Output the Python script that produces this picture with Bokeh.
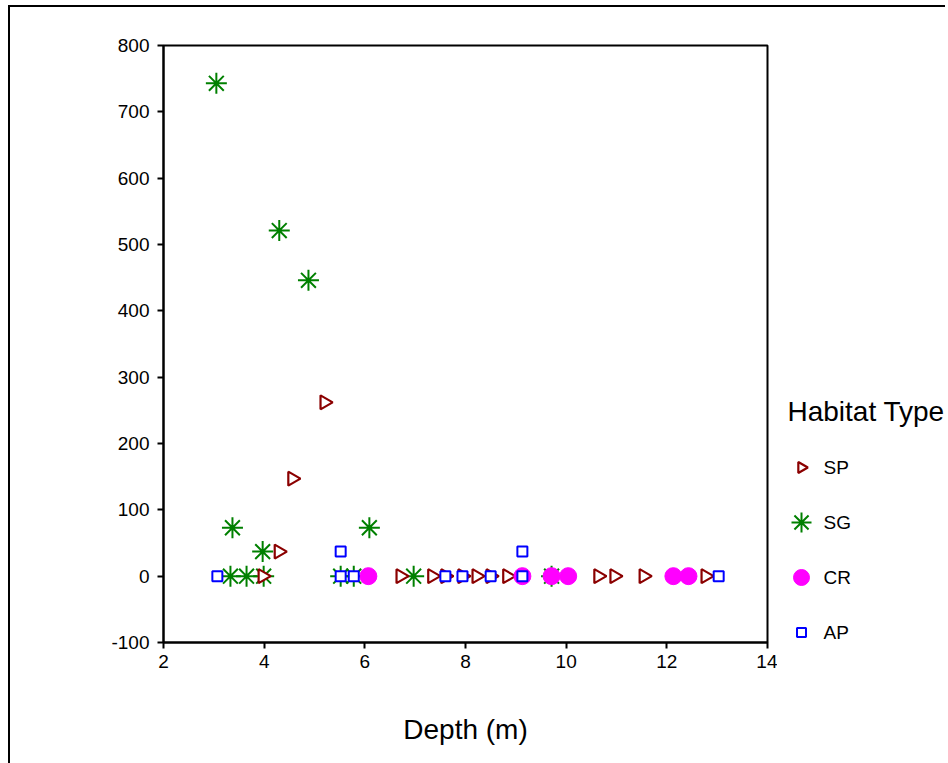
import math
from bokeh.plotting import figure
from bokeh.layouts import row
from bokeh.models import FixedTicker, PrintfTickFormatter, Range1d
from bokeh.core.properties import value
from bokeh.embed import file_html
from bokeh.resources import INLINE

# ---- data ----
sp_x = [5.20, 4.56, 4.29, 3.97, 6.71, 7.34, 7.60, 7.94, 8.22, 8.50, 8.83, 10.64, 10.96, 11.54, 12.77]
sp_y = [262, 147, 37, 0, 0, 0, 0, 0, 0, 0, 0, 0, 0, 0, 0]

sg_x = [3.05, 4.30, 4.88, 3.37, 3.97, 6.09, 3.33, 3.65, 3.99, 5.52, 5.78, 6.97, 9.71]
sg_y = [743, 521, 446, 73, 37, 73, 0, 0, 0, 0, 0, 0, 0]

cr_x = [6.07, 9.13, 9.71, 10.04, 12.13, 12.43]
cr_y = [0, 0, 0, 0, 0, 0]

ap_x = [3.07, 5.52, 5.52, 5.78, 7.60, 7.94, 8.50, 9.13, 9.13, 13.03]
ap_y = [0, 37, 0, 0, 0, 0, 0, 37, 0, 0]

x_ticks = [2, 4, 6, 8, 10, 12, 14]
y_ticks = [-100, 0, 100, 200, 300, 400, 500, 600, 700, 800]

legend_title = "Habitat Type"
legend_labels = ["SP", "SG", "CR", "AP"]

FONT = "Liberation Sans"
C_SP, C_SG, C_CR, C_AP = "#8b0000", "#008000", "#ff00ff", "#0000ff"

FRAME_W, FRAME_H = 604, 597
B_TOP, B_BOTTOM = 40, 121

# ---------------- main plot ----------------
p = figure(frame_width=FRAME_W, frame_height=FRAME_H,
           x_range=(2, 14), y_range=(-100, 800),
           output_backend="svg", toolbar_location=None,
           min_border_left=155, min_border_top=B_TOP,
           min_border_right=10, min_border_bottom=B_BOTTOM)
p.border_fill_color = None
p.background_fill_color = "white"
p.grid.visible = False
p.outline_line_color = "black"
p.outline_line_width = 2

for ax in (p.xaxis[0], p.yaxis[0]):
    ax.axis_line_width = 2
    ax.axis_line_color = "black"
    ax.major_tick_line_width = 2
    ax.major_tick_in = 0
    ax.major_tick_out = 6
    ax.minor_tick_line_color = None
    ax.major_label_text_font = FONT
    ax.major_label_text_font_size = "19px"
    ax.major_label_text_color = "black"
    ax.formatter = PrintfTickFormatter(format="%d")

p.xaxis.ticker = FixedTicker(ticks=x_ticks)
p.yaxis.ticker = FixedTicker(ticks=y_ticks)
p.xaxis.major_label_standoff = 6
p.yaxis.major_label_standoff = 8
p.xaxis.axis_label = "Depth (m)"
p.xaxis.axis_label_text_font = FONT
p.xaxis.axis_label_text_font_size = "28px"
p.xaxis.axis_label_text_font_style = "normal"
p.xaxis.axis_label_text_color = "black"
p.xaxis.axis_label_standoff = 43

p.scatter(sg_x, sg_y, marker="asterisk", size=21, angle=math.pi / 2,
          line_color=C_SG, line_width=2)
p.scatter(sp_x, sp_y, marker="triangle", size=14, angle=-math.pi / 2,
          line_color=C_SP, fill_color="white", line_width=2.2)
p.scatter(cr_x, cr_y, marker="circle", size=17,
          line_color=C_CR, fill_color=C_CR, line_width=1)
p.scatter(ap_x, ap_y, marker="square", size=10,
          line_color=C_AP, fill_color="white", line_width=2)

# ---------------- legend panel (screen-like units, origin at frame bottom-left) ----------------
LEG_W = 168
LEG_FIRST = 175   # centre of first legend row above the frame bottom
LEG_STEP = 55     # row pitch
LEG_TITLE_GAP = 56
MX, TX, TITLE_X = 24, 46, 10

lg = figure(width=LEG_W, frame_height=FRAME_H,
            x_range=Range1d(0, LEG_W), y_range=Range1d(0, FRAME_H),
            output_backend="svg", toolbar_location=None,
            min_border_left=0, min_border_right=0,
            min_border_top=B_TOP, min_border_bottom=B_BOTTOM)
lg.axis.visible = False
lg.grid.visible = False
lg.outline_line_color = None
lg.border_fill_color = None
lg.background_fill_color = None

row_y = {lab: LEG_FIRST - i * LEG_STEP for i, lab in enumerate(legend_labels)}

lg.scatter([MX], [row_y["SP"]], marker="triangle", size=11, angle=-math.pi / 2,
           line_color=C_SP, fill_color="white", line_width=2.2)
lg.scatter([MX], [row_y["SG"]], marker="asterisk", size=20, angle=math.pi / 2,
           line_color=C_SG, line_width=2)
lg.scatter([MX], [row_y["CR"]], marker="circle", size=16,
           line_color=C_CR, fill_color=C_CR, line_width=1)
lg.scatter([MX], [row_y["AP"]], marker="square", size=9,
           line_color=C_AP, fill_color="white", line_width=2)
lg.text(x=[TX] * len(legend_labels), y=[row_y[l] for l in legend_labels], text=legend_labels,
        text_baseline="middle", text_align="left",
        text_font=value(FONT), text_font_size="19px", text_color="black")
lg.text(x=[TITLE_X], y=[LEG_FIRST + LEG_TITLE_GAP], text=[legend_title],
        text_baseline="middle", text_align="left",
        text_font=value(FONT), text_font_size="28px", text_color="black")

layout = row(p, lg, margin=(5, 0, 0, 8),
             styles={"box-shadow": "inset 2px 2px 0 0 black", "background": "white"})

open("out.html", "w").write(file_html(layout, INLINE))
